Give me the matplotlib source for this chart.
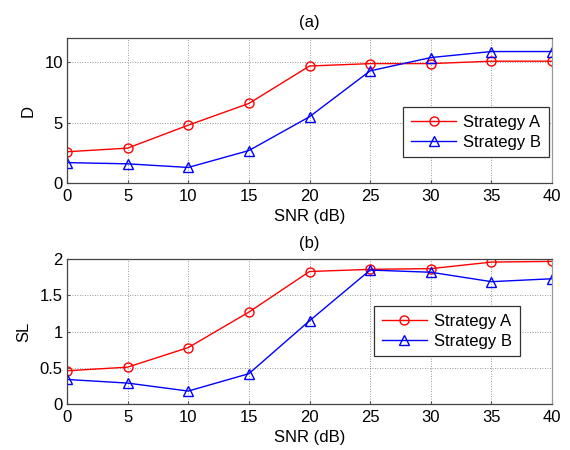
import matplotlib
matplotlib.use('Agg')
import matplotlib.pyplot as plt

plt.rcParams['font.family'] = ['Liberation Sans', 'DejaVu Sans']
plt.rcParams['font.size'] = 12

snr = [0, 5, 10, 15, 20, 25, 30, 35, 40]

# (a) D
d_a = [2.6, 2.9, 4.8, 6.6, 9.7, 9.9, 9.9, 10.1, 10.1]
d_b = [1.7, 1.6, 1.3, 2.7, 5.5, 9.3, 10.4, 10.9, 10.9]

# (b) SL
sl_a = [0.46, 0.51, 0.78, 1.27, 1.83, 1.86, 1.87, 1.96, 1.97]
sl_b = [0.34, 0.29, 0.18, 0.42, 1.15, 1.85, 1.82, 1.69, 1.73]

fig = plt.figure(figsize=(5.7, 4.5), dpi=100)
ax1 = fig.add_axes([0.1175, 0.593, 0.851, 0.322])
ax2 = fig.add_axes([0.1175, 0.102, 0.851, 0.322])

def draw(ax, ya, yb, ylabel, title, ylim, yticks, yticklabels, legend_anchor):
    ax.plot(snr, ya, 'r-o', mfc='none', ms=6.5, lw=1, label='Strategy A')
    ax.plot(snr, yb, 'b-^', mfc='none', ms=6.5, lw=1, label='Strategy B')
    ax.set_xlim(0, 40)
    ax.set_ylim(*ylim)
    ax.set_xticks(snr)
    ax.set_yticks(yticks)
    ax.set_yticklabels(yticklabels)
    ax.grid(True, linestyle=(0, (1, 2)), color='#777777', linewidth=0.6)
    ax.tick_params(direction='in', length=2, pad=4, color='#555555')
    ax.tick_params(axis='y', pad=3)
    for s in ax.spines.values():
        s.set_color('#444444')
        s.set_linewidth(0.9)
    ax.spines['right'].set_color('#999999')
    ax.set_xlabel('SNR (dB)', labelpad=4)
    ax.set_ylabel(ylabel, labelpad=6)
    ax.set_title(title, fontsize=12, pad=8)
    leg = ax.legend(loc='upper left', bbox_to_anchor=legend_anchor, fancybox=False,
                    edgecolor='#333333', framealpha=1, handlelength=2.75,
                    borderaxespad=0, labelspacing=0.3, borderpad=0.45,
                    handletextpad=0.4)
    leg.get_frame().set_linewidth(0.9)

draw(ax1, d_a, d_b, 'D', '(a)', (0, 12), [0, 5, 10], ['0', '5', '10'], (0.693, 0.524))
draw(ax2, sl_a, sl_b, 'SL', '(b)', (0, 2), [0, 0.5, 1, 1.5, 2],
     ['0', '0.5', '1', '1.5', '2'], (0.633, 0.676))

fig.savefig('out.png', dpi=100)
